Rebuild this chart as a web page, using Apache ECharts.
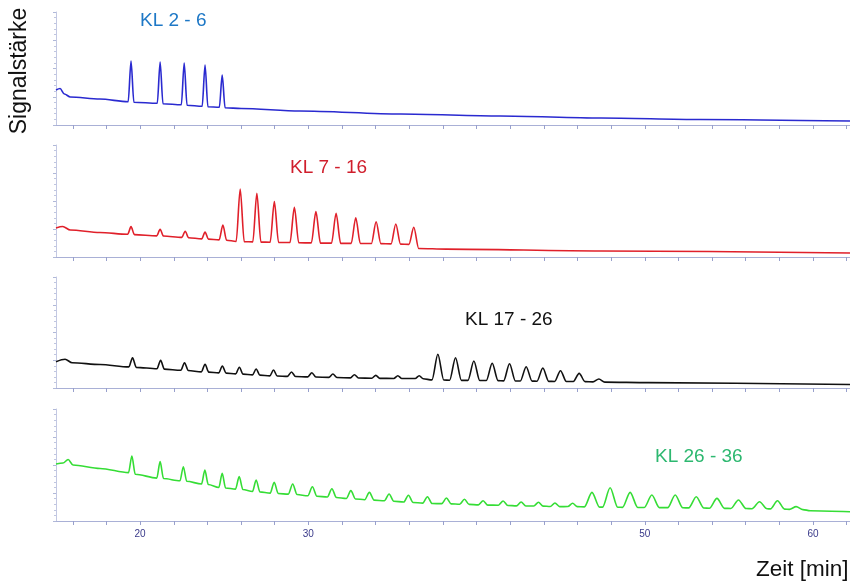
<!DOCTYPE html>
<html><head><meta charset="utf-8">
<script src="https://cdn.jsdelivr.net/npm/echarts@6/dist/echarts.min.js"></script>
<style>html,body{margin:0;padding:0;background:#fff}#c{width:850px;height:584px}</style>
</head><body><div id="c"></div>
<script>
// time axis (minutes)
const xTicks = [16,18,20,22,24,26,28,30,32,34,36,38,40,42,44,46,48,50,52,54,56,58,60,62];
const xTickLabels = [20,30,50,60];
const panelTitles = ['KL 2 - 6','KL 7 - 16','KL 17 - 26','KL 26 - 36'];

// [min, signal]
const blueTrace = [[15.0,31.0],[15.24,32.3],[15.5,27.4],[15.85,24.8],[17.6,23.0],
[19.29,20.6],[19.46,56.6],[19.63,20.1],
[21.02,19.2],[21.19,55.8],[21.36,18.8],
[22.45,17.9],[22.62,54.9],[22.79,17.5],
[23.69,16.6],[23.86,53.1],[24.03,16.2],
[24.71,15.7],[24.88,44.2],[25.05,15.3],
[26.0,14.6],[29.5,12.4],[35.5,9.7],[41.4,8.0],[47.4,6.2],[53.3,4.9],[62.2,3.5]];

const redTrace = [[15.0,25.9],[15.4,27.2],[15.85,24.1],[17.6,21.9],
[19.26,20.3],[19.46,27.1],[19.66,20.0],
[20.99,18.9],[21.19,24.7],[21.39,18.7],
[22.48,17.5],[22.68,23.0],[22.88,17.2],
[23.66,16.2],[23.86,22.3],[24.06,16.0],
[24.7,15.3],[24.92,28.6],[25.14,15.0],
[25.71,13.9],[25.95,60.7],[26.19,13.7],
[26.7,13.5],[26.94,56.9],[27.18,13.3],
[27.73,13.2],[27.98,49.4],[28.23,13.0],
[28.91,12.9],[29.17,44.4],[29.43,12.7],
[30.18,12.6],[30.45,40.5],[30.72,12.4],
[31.38,12.4],[31.65,39.0],[31.92,12.2],
[32.55,12.2],[32.82,35.1],[33.09,12.1],
[33.75,12.0],[34.03,31.5],[34.31,11.9],
[34.92,11.7],[35.2,29.5],[35.48,11.5],
[35.98,11.3],[36.27,26.5],[36.56,7.6],
[38.2,7.0],[47.4,5.4],[62.2,3.6]];

const blackTrace = [[15.0,23.7],[15.54,25.9],[15.96,22.8],[17.62,21.2],
[19.33,19.0],[19.55,27.3],[19.77,18.6],
[21.0,17.3],[21.22,25.0],[21.44,17.0],
[22.42,16.0],[22.64,22.8],[22.86,15.8],
[23.64,14.5],[23.86,21.4],[24.08,14.3],
[24.67,13.6],[24.89,19.8],[25.11,13.4],
[25.68,12.7],[25.9,18.7],[26.12,12.5],
[26.68,11.8],[26.9,17.1],[27.12,11.6],
[27.71,10.9],[27.93,16.2],[28.15,10.8],
[28.76,10.5],[29.0,14.4],[29.24,10.3],
[29.97,10.0],[30.21,13.8],[30.45,9.9],
[31.22,9.6],[31.46,12.6],[31.7,9.4],
[32.5,9.1],[32.74,12.0],[32.98,9.0],
[33.77,8.8],[34.01,11.4],[34.25,8.7],
[35.08,8.6],[35.32,11.1],[35.56,8.5],
[36.35,8.5],[36.59,11.1],[36.83,8.3],
[37.35,7.3],[37.7,30.4],[38.05,7.2],
[38.4,7.0],[38.75,27.3],[39.1,6.9],
[39.49,6.9],[39.84,24.3],[40.19,6.8],
[40.58,6.7],[40.93,22.3],[41.28,6.6],
[41.61,6.4],[41.96,21.9],[42.31,6.3],
[42.6,6.3],[42.95,19.2],[43.3,6.2],
[43.59,6.1],[43.94,18.0],[44.29,6.0],
[44.64,5.9],[44.99,15.6],[45.34,5.8],
[45.75,5.8],[46.1,13.2],[46.45,5.7],
[46.92,5.5],[47.27,8.1],[47.62,5.3],
[50.2,4.8],[62.2,3.2]];

const greenTrace = [[15.0,50.9],[15.42,51.8],[15.72,54.9],[16.01,50.0],[17.62,46.9],
[19.31,43.2],[19.51,58.0],[19.71,41.8],
[20.99,38.3],[21.19,53.0],[21.39,37.9],
[22.37,35.9],[22.57,48.5],[22.77,35.5],
[23.65,33.0],[23.85,45.5],[24.05,32.6],
[24.68,29.9],[24.88,42.6],[25.08,29.5],
[25.67,28.5],[25.89,39.6],[26.11,28.1],
[26.68,26.4],[26.9,36.6],[27.12,26.0],
[27.73,24.9],[27.97,34.6],[28.21,24.5],
[28.81,24.0],[29.07,33.0],[29.33,23.6],
[29.97,22.5],[30.24,30.6],[30.51,22.1],
[31.13,21.4],[31.4,28.8],[31.67,21.0],
[32.26,20.1],[32.53,27.1],[32.8,19.7],
[33.35,19.0],[33.63,25.6],[33.91,18.6],
[34.52,18.1],[34.8,24.1],[35.08,17.7],
[35.67,16.9],[35.95,23.0],[36.23,16.5],
[36.8,16.0],[37.08,21.7],[37.36,15.6],
[37.93,15.5],[38.21,20.5],[38.49,15.3],
[39.0,15.0],[39.28,19.4],[39.56,14.8],
[40.11,14.4],[40.39,18.1],[40.67,14.2],
[41.3,14.1],[41.58,17.9],[41.86,13.9],
[42.37,13.5],[42.65,17.0],[42.93,13.4],
[43.4,13.4],[43.68,16.7],[43.96,13.3],
[44.38,12.9],[44.66,16.1],[44.94,12.8],
[45.43,12.9],[45.71,15.8],[45.99,12.8],
[46.41,12.6],[46.86,25.6],[47.31,12.4],
[47.49,12.4],[47.94,29.7],[48.39,12.3],
[48.68,12.2],[49.13,25.6],[49.58,12.1],
[49.97,12.0],[50.42,23.2],[50.87,11.95],
[51.36,11.9],[51.81,23.2],[52.26,11.8],
[52.61,11.7],[53.06,21.7],[53.51,11.6],
[53.84,11.4],[54.29,20.2],[54.74,11.3],
[55.12,11.2],[55.57,18.8],[56.02,11.1],
[56.37,11.0],[56.82,17.2],[57.27,10.9],
[57.47,10.8],[57.89,18.1],[58.31,10.6],
[58.6,10.4],[59.0,12.8],[59.4,10.2],
[59.83,9.2],[62.2,8.3]];

const traces = [blueTrace, redTrace, blackTrace, greenTrace];
const lineColors = ['#2a2ad0','#e0202a','#111111','#35dd35'];
const titleColors = ['#1e78c6','#d01e2c','#111111','#2db870'];
const gridTops = [12,145,277,409];
const gridHeights = [113,112,111,112];
const titlePos = [[140,21],[290,168],[465,320],[655,457]];

const chart = echarts.init(document.getElementById('c'), null, {renderer:'canvas'});
const grids = [], xAxes = [], yAxes = [], series = [], graphics = [];
for (let i = 0; i < 4; i++) {
  grids.push({left:56, right:0, top:gridTops[i], height:gridHeights[i]});
  xAxes.push({
    type:'value', gridIndex:i, min:15, max:62.2,
    axisLine:{show:true, lineStyle:{color:'#a9b0d6', width:1}},
    axisTick:{show:true, customValues:xTicks, length:4, lineStyle:{color:'#98a0cc'}},
    axisLabel:{show:i===3, customValues:xTickLabels, color:'#3a3a8a', fontSize:10, margin:8, fontFamily:'Liberation Sans'},
    splitLine:{show:false}
  });
  yAxes.push({
    type:'value', gridIndex:i, min:0, max:100, interval:25,
    axisLine:{show:true, lineStyle:{color:'#c3c8e2', width:1}},
    axisTick:{show:true, length:3, lineStyle:{color:'#b0b8d8'}},
    minorTick:{show:true, splitNumber:5, length:2, lineStyle:{color:'#c0c6e0'}},
    axisLabel:{show:false}, splitLine:{show:false}
  });
  series.push({
    type:'line', xAxisIndex:i, yAxisIndex:i, data:traces[i], showSymbol:false,
    smooth:0.3, smoothMonotone:'x',
    lineStyle:{color:lineColors[i], width:1.6}, animation:false
  });
  graphics.push({type:'text', x:titlePos[i][0], y:titlePos[i][1],
    style:{text:panelTitles[i], fill:titleColors[i], font:'19px "Liberation Sans", Arial, sans-serif', verticalAlign:'middle', align:'left'}});
}
graphics.push({type:'text', x:20, y:71, rotation:Math.PI/2,
  style:{text:'Signalstärke', fill:'#111', font:'23px "Liberation Sans", Arial, sans-serif', align:'center', verticalAlign:'middle'}});
graphics.push({type:'text', x:756, y:570,
  style:{text:'Zeit [min]', fill:'#111', font:'22.5px "Liberation Sans", Arial, sans-serif', align:'left', verticalAlign:'middle'}});

chart.setOption({
  animation:false,
  backgroundColor:'#ffffff',
  grid:grids, xAxis:xAxes, yAxis:yAxes, series:series, graphic:graphics
});
</script></body></html>
